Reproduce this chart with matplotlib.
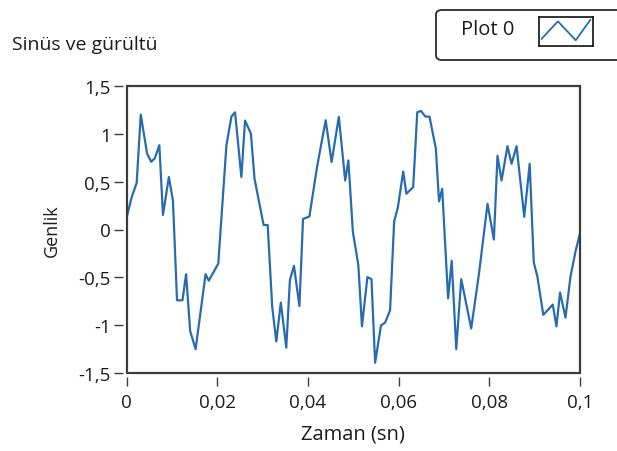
import matplotlib
matplotlib.use('Agg')
import matplotlib.pyplot as plt
from matplotlib.patches import Rectangle, FancyBboxPatch
from matplotlib.ticker import FuncFormatter

# ===== Data (time in s, amplitude) =====
t = [0.0000, 0.0011, 0.0022, 0.0031, 0.0045, 0.0054, 0.0062, 0.0072, 0.0080, 0.0093,
     0.0102, 0.0111, 0.0123, 0.0131, 0.0140, 0.0152, 0.0174, 0.0181, 0.0202, 0.0220,
     0.0231, 0.0239, 0.0253, 0.0261, 0.0274, 0.0282, 0.0302, 0.0311, 0.0321, 0.0330,
     0.0340, 0.0352, 0.0360, 0.0369, 0.0381, 0.0389, 0.0403, 0.0420, 0.0439, 0.0452,
     0.0468, 0.0482, 0.0489, 0.0499, 0.0511, 0.0519, 0.0531, 0.0540, 0.0548, 0.0561,
     0.0570, 0.0581, 0.0590, 0.0598, 0.0610, 0.0617, 0.0632, 0.0641, 0.0649, 0.0659,
     0.0668, 0.0682, 0.0689, 0.0696, 0.0709, 0.0717, 0.0727, 0.0738, 0.0760, 0.0777,
     0.0796, 0.0810, 0.0818, 0.0827, 0.0840, 0.0849, 0.0860, 0.0877, 0.0889, 0.0898,
     0.0906, 0.0919, 0.0940, 0.0948, 0.0956, 0.0968, 0.0979, 0.0990, 0.1000]
amp = [0.128, 0.338, 0.488, 1.201, 0.792, 0.708, 0.745, 0.881, 0.152, 0.548,
       0.302, -0.740, -0.740, -0.467, -1.062, -1.251, -0.467, -0.535, -0.357, 0.879,
       1.180, 1.225, 0.548, 1.139, 1.002, 0.530, 0.047, 0.047, -0.808, -1.170,
       -0.764, -1.236, -0.530, -0.380, -0.800, 0.110, 0.136, 0.656, 1.142, 0.705,
       1.177, 0.512, 0.722, -0.026, -0.373, -1.013, -0.498, -0.519, -1.393, -1.002,
       -0.974, -0.845, 0.084, 0.226, 0.605, 0.373, 0.443, 1.225, 1.240, 1.180,
       1.180, 0.845, 0.294, 0.425, -0.719, -0.327, -1.251, -0.519, -1.034, -0.467,
       0.268, -0.105, 0.771, 0.512, 0.871, 0.687, 0.871, 0.133, 0.687, -0.344,
       -0.493, -0.892, -0.785, -1.013, -0.659, -0.921, -0.493, -0.231, -0.037]

X_TICKS = [0, 0.02, 0.04, 0.06, 0.08, 0.1]
Y_TICKS = [-1.5, -1, -0.5, 0, 0.5, 1, 1.5]

TITLE = 'Sinüs ve gürültü'
XLABEL = 'Zaman (sn)'
YLABEL = 'Genlik'
LEGEND_LABEL = 'Plot 0'

# ===== Style =====
LINE = '#276caf'
FRAME = '#3c3c3c'
TXT = '#1c1c1c'
plt.rcParams['font.family'] = ['Open Sans', 'DejaVu Sans']

def comma(v, pos):
    return f'{v:g}'.replace('.', ',')

fig = plt.figure(figsize=(6.17, 4.52), dpi=100)
ax = fig.add_axes([126.7/617, 1 - 374/452, (580 - 126.7)/617, (374 - 87)/452])

ax.plot(t, amp, color=LINE, lw=1.6, solid_joinstyle='round')

ax.set_xlim(0, 0.1)
ax.set_ylim(-1.5, 1.5)
ax.set_xticks(X_TICKS)
ax.set_yticks(Y_TICKS)
ax.xaxis.set_major_formatter(FuncFormatter(comma))
ax.yaxis.set_major_formatter(FuncFormatter(comma))

# frame drawn separately so ticks can sit a few px outside it
for s in ax.spines.values():
    s.set_visible(False)
ax.spines['bottom'].set_position(('outward', 3))
ax.spines['left'].set_position(('outward', 3))
ax.add_patch(Rectangle((0, 0), 1, 1, transform=ax.transAxes, fill=False,
                       edgecolor=FRAME, lw=1.6, clip_on=False, zorder=5))

ax.tick_params(axis='both', direction='out', length=6.5, width=1.0,
               color=FRAME, labelcolor=TXT, labelsize=13.5)
ax.tick_params(axis='x', pad=5)
ax.tick_params(axis='y', pad=2)

ax.set_xlabel(XLABEL, fontsize=14.5, color=TXT)
ax.xaxis.set_label_coords(0.5, (374 - 435) / 287)
ax.xaxis.label.set_va('center')
ax.set_ylabel(YLABEL, fontsize=13, color=TXT)
ax.yaxis.set_label_coords((52 - 126.7) / 453.3, 0.5)
ax.yaxis.label.set_va('center')

fig.text(12/617, 1 - 45/452, TITLE, fontsize=14, color=TXT, va='center', ha='left')

# legend box (LabVIEW plot legend, runs off the right edge)
fig.patches.append(FancyBboxPatch((436/617, 1 - 61/452), 200/617, 50/452,
                                  boxstyle='round,pad=0,rounding_size=0.01',
                                  transform=fig.transFigure, facecolor='white',
                                  edgecolor='#2a2a2a', lw=1.3, zorder=1))
fig.text(461/617, 1 - 30/452, LEGEND_LABEL, fontsize=14.5, color=TXT,
         va='center', ha='left')
icon = fig.add_axes([539/617, 1 - 47/452, 54/617, 29/452])
icon.set_zorder(3)
icon.plot([0.05, 0.35, 0.68, 0.95], [0.25, 0.85, 0.2, 0.9], color=LINE, lw=1.3)
icon.set_xlim(0, 1)
icon.set_ylim(0, 1)
icon.set_xticks([])
icon.set_yticks([])
for s in icon.spines.values():
    s.set_color('#111111')
    s.set_linewidth(1.2)

fig.savefig('out.png', dpi=100)
